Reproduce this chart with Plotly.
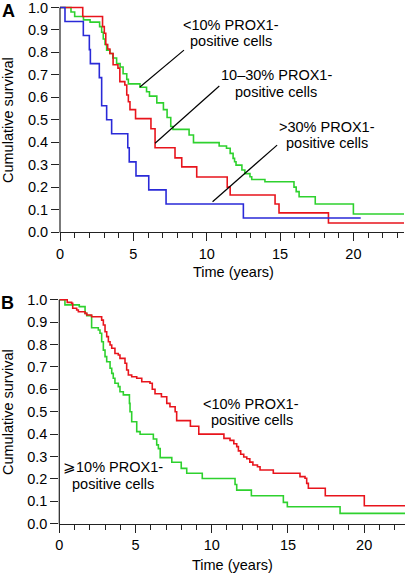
import plotly.graph_objects as go

# ---------------- data ----------------
# Panel A: Kaplan-Meier steps (time in years, survival after event)
a_low_t = [0, 0.75, 1.0, 1.6, 2.05, 2.7, 2.84, 2.95, 3.07, 3.18, 3.4, 3.6, 3.86, 4.1, 4.3, 4.55, 4.66,
           5.45, 5.9, 6.1, 6.6, 7.05, 7.3, 7.55, 7.7, 8.8, 9.1, 10.85, 11.35, 11.6, 11.8, 11.9, 12.0,
           12.4, 12.6, 12.95, 13.07, 13.97, 15.95, 16.1, 16.3, 17.4, 20.0, 23.45]
a_low_s = [1.0, 0.98, 0.96, 0.945, 0.935, 0.915, 0.89, 0.86, 0.835, 0.81, 0.795, 0.775, 0.75, 0.735, 0.705, 0.68, 0.66,
           0.645, 0.625, 0.605, 0.575, 0.545, 0.51, 0.47, 0.457, 0.432, 0.398, 0.383, 0.373, 0.35, 0.328, 0.313, 0.298,
           0.276, 0.26, 0.246, 0.234, 0.224, 0.2, 0.18, 0.157, 0.125, 0.08, 0.08]

a_mid_t = [0, 1.55, 2.9, 3.02, 3.12, 3.25, 3.4, 3.62, 3.95, 4.08, 4.42, 4.55, 4.66, 4.77, 5.15, 6.2, 6.48,
           7.84, 8.3, 9.32, 11.4, 11.6, 14.66, 14.93, 18.3, 23.45]
a_mid_s = [1.0, 0.96, 0.915, 0.885, 0.835, 0.815, 0.795, 0.745, 0.73, 0.67, 0.655, 0.61, 0.58, 0.545, 0.505, 0.46, 0.375,
           0.33, 0.29, 0.245, 0.2, 0.165, 0.125, 0.085, 0.04, 0.04]

a_high_t = [0, 0.34, 1.59, 2.0, 2.07, 2.68, 2.84, 3.18, 3.52, 4.62, 4.72, 5.18, 6.05, 7.23, 12.5, 20.5]
a_high_s = [1.0, 0.9375, 0.875, 0.8125, 0.75, 0.6875, 0.5625, 0.5, 0.4375, 0.375, 0.3125, 0.25, 0.1875, 0.125, 0.0625, 0.0625]

# Panel B
b_low_t = [0, 0.52, 0.81, 0.88, 1.14, 1.25, 1.69, 1.8, 2.12, 2.78, 2.89, 3.0, 3.11, 3.22, 3.33, 3.44, 3.65, 3.87,
           3.98, 4.31, 4.42, 4.53, 4.75, 5.08, 5.41, 5.95, 6.1, 6.28, 6.7, 7.05, 7.26, 7.6, 7.7, 8.6, 9.15, 10.8,
           11.2, 11.45, 11.64, 11.75, 11.9, 12.1, 12.3, 12.5, 12.7, 13.0, 13.17, 14.04, 15.79, 16.12, 16.23,
           16.34, 17.45, 20.01, 22.68]
b_low_s = [1.0, 0.988, 0.984, 0.962, 0.954, 0.946, 0.939, 0.932, 0.924, 0.909, 0.887, 0.857, 0.835, 0.8125, 0.798,
           0.783, 0.76, 0.753, 0.738, 0.716, 0.686, 0.664, 0.656, 0.649, 0.634, 0.627, 0.6, 0.58, 0.567, 0.537,
           0.522, 0.5, 0.46, 0.435, 0.40, 0.381, 0.372, 0.357, 0.344, 0.325, 0.31, 0.298, 0.29, 0.275, 0.262,
           0.254, 0.24, 0.225, 0.21, 0.203, 0.18, 0.158, 0.125, 0.08, 0.08]

b_high_t = [0, 0.37, 1.31, 1.69, 1.8, 2.12, 2.56, 2.67, 2.78, 2.89, 3.0, 3.11, 3.33, 3.44, 3.54, 3.65, 3.87, 3.98,
            4.2, 4.6, 4.64, 4.75, 5.08, 5.3, 6.17, 6.39, 6.5, 6.62, 7.38, 8.0, 8.36, 9.38, 11.53, 11.64, 12.6,
            14.7, 14.96, 18.42, 22.68]
b_high_s = [1.0, 0.977, 0.969, 0.939, 0.929, 0.875, 0.865, 0.85, 0.8125, 0.775, 0.746, 0.723, 0.694, 0.671, 0.649,
            0.627, 0.612, 0.589, 0.575, 0.537, 0.5, 0.455, 0.411, 0.399, 0.378, 0.352, 0.335, 0.295, 0.274, 0.247,
            0.225, 0.202, 0.175, 0.15, 0.125, 0.095, 0.076, 0.046, 0.046]

x_ticks = [0, 5, 10, 15, 20]
x_tick_labels = ["0", "5", "10", "15", "20"]
y_ticks = [0.0, 0.1, 0.2, 0.3, 0.4, 0.5, 0.6, 0.7, 0.8, 0.9, 1.0]
y_tick_labels = ["0.0", "0.1", "0.2", "0.3", "0.4", "0.5", "0.6", "0.7", "0.8", "0.9", "1.0"]

# ---------------- styling ----------------
W, H = 406, 573
RED = "#e8141c"
GREEN = "#2ed12e"
BLUE = "#2a2ad8"
AX = "#222222"
FONT = "Liberation Sans, Arial, Helvetica, sans-serif"
FS = 14.5


def px(x):
    return x / W


def py(y):
    return 1 - y / H


fig = go.Figure()

def add_curve(t, s, color, xa, ya):
    fig.add_trace(go.Scatter(x=t, y=s, mode="lines", line=dict(color=color, width=1.6, shape="hv"),
                             xaxis=xa, yaxis=ya, showlegend=False, hoverinfo="skip"))

add_curve(a_low_t, a_low_s, GREEN, "x", "y")
add_curve(a_mid_t, a_mid_s, RED, "x", "y")
add_curve(a_high_t, a_high_s, BLUE, "x", "y")
add_curve(b_high_t, b_high_s, GREEN, "x2", "y2")
add_curve(b_low_t, b_low_s, RED, "x2", "y2")

YTOP = 1.015

def xaxis_cfg(domain, rng, anchor):
    return dict(domain=domain, range=rng, anchor=anchor, showgrid=False, zeroline=False, automargin=False,
                showline=True, linecolor=AX, linewidth=1.2, ticklabeloverflow="allow",
                ticks="outside", ticklen=8, tickwidth=1.2, tickcolor=AX,
                tickvals=x_ticks, ticktext=x_tick_labels,
                minor=dict(dtick=1, tick0=0, ticks="outside", ticklen=5, tickwidth=1.2, tickcolor=AX, showgrid=False),
                tickfont=dict(family=FONT, size=FS, color="black"))

def yaxis_cfg(domain, anchor):
    return dict(domain=domain, range=[0, YTOP], anchor=anchor, showgrid=False, zeroline=False, automargin=False,
                showline=False, ticks="outside", ticklen=8, tickwidth=1.2, tickcolor=AX,
                ticklabeloverflow="allow",
                tickvals=y_ticks, ticktext=y_tick_labels,
                tickfont=dict(family=FONT, size=FS, color="black"))

# pixel geometry
A_x0, A_x1, A_y0, A_y1 = 60, 404, 232, 7.5
B_x0, B_x1, B_y0, B_y1 = 59.3, 405, 523.7, 299.7
A_top = A_y1 - (YTOP - 1) * (A_y0 - A_y1)
B_top = B_y1 - (YTOP - 1) * (B_y0 - B_y1)

fig.update_layout(
    width=W, height=H, margin=dict(l=0, r=0, t=0, b=0, autoexpand=False),
    paper_bgcolor="white", plot_bgcolor="white",
    xaxis=xaxis_cfg([px(A_x0), px(A_x1)], [0, 23.45], "y"),
    yaxis=yaxis_cfg([py(A_y0), py(A_top)], "x"),
    xaxis2=xaxis_cfg([px(B_x0), px(B_x1)], [0, 22.68], "y2"),
    yaxis2=yaxis_cfg([py(B_y0), py(B_top)], "x2"),
    font=dict(family=FONT, size=FS, color="black"),
)

shapes = [
    dict(type="line", xref="paper", yref="paper", x0=px(A_x0), x1=px(A_x0), y0=py(A_y0 + 0.6), y1=py(A_y1),
         line=dict(color=AX, width=1.2)),
    dict(type="line", xref="paper", yref="paper", x0=px(B_x0), x1=px(B_x0), y0=py(B_y0 + 0.6), y1=py(B_y1),
         line=dict(color=AX, width=1.2)),
    # pointer lines, panel A
    dict(type="line", xref="x", yref="y", x0=5.45, y0=0.646, x1=8.45, y1=0.81, line=dict(color="black", width=1.2)),
    dict(type="line", xref="x", yref="y", x0=6.48, y0=0.395, x1=10.86, y1=0.65, line=dict(color="black", width=1.2)),
    dict(type="line", xref="x", yref="y", x0=10.4, y0=0.135, x1=14.8, y1=0.387, line=dict(color="black", width=1.2)),
]
fig.update_layout(shapes=shapes)

def ann(text, x, y, size=FS, bold=False, angle=0):
    return dict(text=("<b>%s</b>" % text) if bold else text, x=px(x), y=py(y), xref="paper", yref="paper",
                showarrow=False, xanchor="center", yanchor="middle", textangle=angle,
                font=dict(family=FONT, size=size, color="black"))

annotations = [
    ann("A", 8, 10.5, size=18, bold=True),
    ann("B", 7.5, 303, size=18, bold=True),
    ann("Cumulative survival", 8, 120, angle=-90),
    ann("Cumulative survival", 8, 412, angle=-90),
    ann("Time (years)", 233, 272),
    ann("Time (years)", 232, 565),
    ann("&lt;10% PROX1-", 231, 25),
    ann("positive cells", 231, 41.5),
    ann("10–30% PROX1-", 276, 75),
    ann("positive cells", 276, 91.5),
    ann("&gt;30% PROX1-", 326.5, 127),
    ann("positive cells", 326.5, 143.5),
    ann("&lt;10% PROX1-", 251, 403.5),
    ann("positive cells", 251.5, 420),
    ann("⩾10% PROX1-", 113, 467),
    ann("positive cells", 113, 483.5),
]
fig.update_layout(annotations=annotations)

fig.write_html("out.html", config={"displayModeBar": False},
               post_script="document.body.style.margin='0px';document.body.style.overflow='hidden';")
